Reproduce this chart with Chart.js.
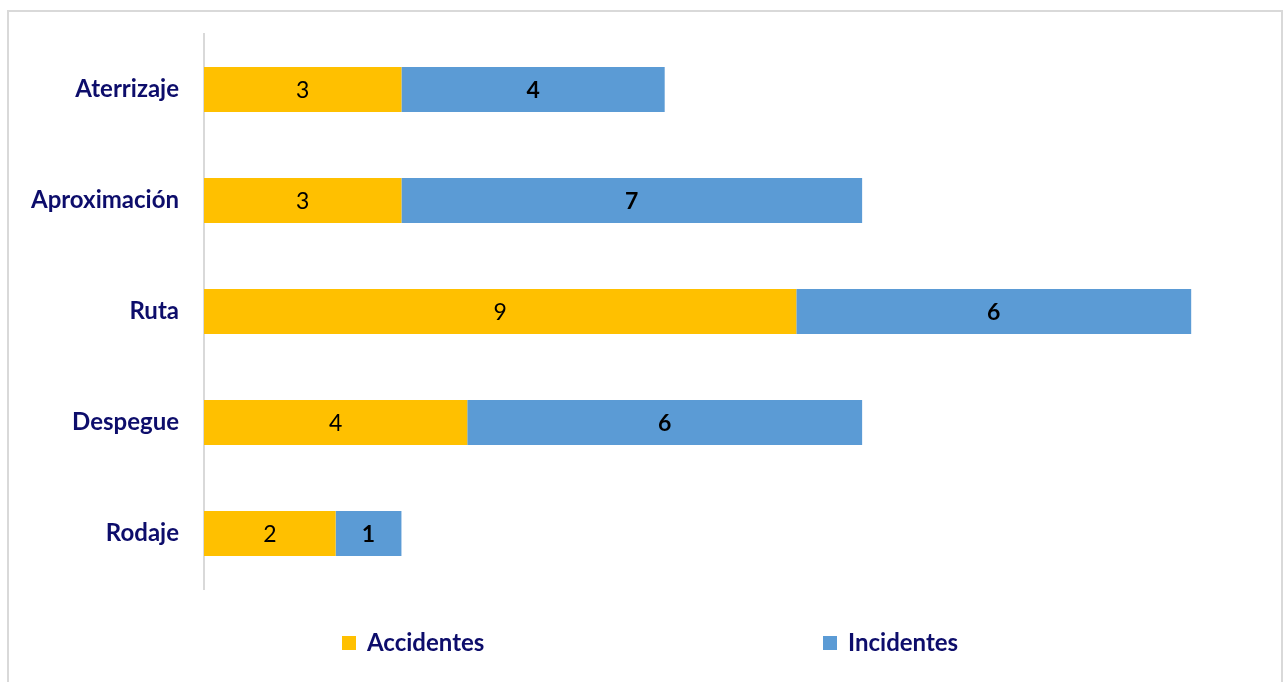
<!DOCTYPE html>
<html>
<head>
<meta charset="utf-8">
<script src="https://cdn.jsdelivr.net/npm/chart.js@4.4.1/dist/chart.umd.min.js"></script>
<style>
  html, body { margin: 0; padding: 0; background: #ffffff; overflow: hidden; }
  #frame { position: absolute; left: 7px; top: 10px; width: 1276px; height: 700px; border: 2px solid #d9d9d9; box-sizing: border-box; }
  #wrap { position: absolute; left: 0; top: 0; width: 1287px; height: 682px; }
</style>
</head>
<body>
<div id="frame"></div>
<div id="wrap"><canvas id="c" width="1287" height="682"></canvas></div>
<script>
const categories = ["Aterrizaje", "Aproximación", "Ruta", "Despegue", "Rodaje"];
const accidentes = [3, 3, 9, 4, 2];
const incidentes = [4, 7, 6, 6, 1];
const seriesNames = ["Accidentes", "Incidentes"];
const colors = ["#FFC000", "#5B9BD5"];
const navy = "#0D0D6B";
const FONT = "Lato, 'Open Sans', sans-serif";

const valueLabels = {
  id: "valueLabels",
  afterDatasetsDraw(chart) {
    const ctx = chart.ctx;
    ctx.save();
    ctx.textAlign = "center";
    ctx.textBaseline = "middle";
    ctx.fillStyle = "#000000";
    chart.data.datasets.forEach((ds, di) => {
      const meta = chart.getDatasetMeta(di);
      ctx.font = (di === 1 ? "bold " : "") + "23px " + FONT;
      meta.data.forEach((bar, i) => {
        const x = (bar.x + bar.base) / 2;
        ctx.fillText(String(ds.data[i]), x, bar.y + 1);
      });
    });
    ctx.restore();
  }
};

// Custom wide-spaced legend drawn from the dataset labels and colours
const wideLegend = {
  id: "wideLegend",
  afterDraw(chart) {
    const ctx = chart.ctx;
    const starts = [342, 823];
    const cy = 643;
    ctx.save();
    ctx.textAlign = "left";
    ctx.textBaseline = "middle";
    ctx.font = "bold 24px " + FONT;
    chart.data.datasets.forEach((ds, i) => {
      ctx.fillStyle = ds.backgroundColor;
      ctx.fillRect(starts[i], cy - 7, 14, 14);
      ctx.fillStyle = navy;
      ctx.fillText(ds.label, starts[i] + 25, cy);
    });
    ctx.restore();
  }
};

new Chart(document.getElementById("c"), {
  type: "bar",
  data: {
    labels: categories,
    datasets: [
      { label: seriesNames[0], data: accidentes, backgroundColor: colors[0], borderWidth: 0 },
      { label: seriesNames[1], data: incidentes, backgroundColor: colors[1], borderWidth: 0 }
    ]
  },
  options: {
    indexAxis: "y",
    responsive: false,
    animation: false,
    devicePixelRatio: 1,
    layout: { padding: { left: 0, right: 30, top: 34, bottom: 93 } },
    datasets: { bar: { categoryPercentage: 1.0, barPercentage: 0.405 } },
    scales: {
      x: { stacked: true, display: false, min: 0, max: 16 },
      y: {
        stacked: true,
        grid: { display: false, drawTicks: false },
        border: { display: true, color: "#d9d9d9", width: 2 },
        ticks: { color: navy, font: { family: FONT, size: 24, weight: "bold" }, padding: 25 },
        afterFit(scale) { scale.width = 204; scale.paddingTop = 0; scale.paddingBottom = 0; }
      }
    },
    plugins: {
      legend: { display: false },
      tooltip: { enabled: false }
    }
  },
  plugins: [valueLabels, wideLegend]
});
</script>
</body>
</html>
